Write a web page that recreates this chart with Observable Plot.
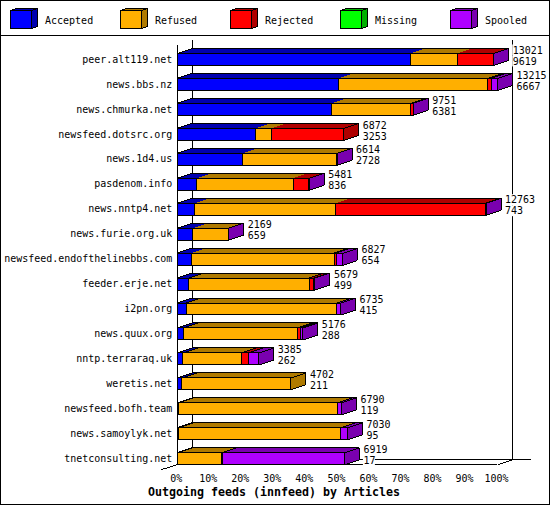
<!DOCTYPE html>
<html><head><meta charset="utf-8">
<script src="https://cdn.jsdelivr.net/npm/d3@7"></script>
<script src="https://cdn.jsdelivr.net/npm/@observablehq/plot@0.6"></script>
<style>
html,body{margin:0;padding:0;background:#fff}
#frame{position:relative;width:550px;height:505px;box-sizing:border-box;border:1px solid #000;overflow:hidden;font-family:"DejaVu Sans Mono",monospace;font-size:10px}
#legend{position:absolute;left:-1px;top:-1px;width:550px;height:36px;box-sizing:border-box;border-bottom:1px solid #000}
#chart{position:absolute;left:-1px;top:35px}
#title{position:absolute;left:147px;top:484px;font:bold 11.63px "DejaVu Sans Mono",monospace;white-space:pre;color:#000}
</style></head><body>
<div id="frame"><div id="legend"></div><div id="chart"></div><div id="title"></div></div>
<script>
const categories = ["Accepted","Refused","Rejected","Missing","Spooled"];
const fills  = ["#0000ff","#ffaf00","#ff0000","#00ff00","#af00ff"];
const shades = ["#0000af","#af7a00","#af0000","#00af00","#7a00af"];
const hosts = ["peer.alt119.net","news.bbs.nz","news.chmurka.net","newsfeed.dotsrc.org","news.1d4.us","pasdenom.info","news.nntp4.net","news.furie.org.uk","newsfeed.endofthelinebbs.com","feeder.erje.net","i2pn.org","news.quux.org","nntp.terraraq.uk","weretis.net","newsfeed.bofh.team","news.samoylyk.net","tnetconsulting.net"];
const accepted = [72.8,50.2,48.2,24.5,20.3,6.1,5.4,4.9,4.5,3.5,2.9,2.0,1.8,1.5,0.5,0.5,0.1];
const refused  = [14.7,46.7,24.6,5.0,29.5,30.1,44.1,11.1,44.5,37.7,46.9,35.5,18.2,34.0,49.4,50.4,13.8];
const rejected = [11.2,1.1,0.8,22.5,0,4.9,46.8,0,0.6,1.4,0,1.0,2.3,0,0,0,0.1];
const missing  = [0,0,0,0,0,0,0,0,0,0,0,0,0,0,0,0,0];
const spooled  = [0.1,2.0,0.1,0,0.1,0.1,0.1,0.1,2.0,0.4,1.2,0.7,3.2,0,1.4,2.3,38.2];
const offered  = [13021,13215,9751,6872,6614,5481,12763,2169,6827,5679,6735,5176,3385,4702,6790,7030,6919];
const received = [9619,6667,6381,3253,2728,836,743,659,654,499,415,288,262,211,119,95,17];
const title = "Outgoing feeds (innfeed) by Articles";
const tickValues = [0,10,20,30,40,50,60,70,80,90,100];

const DX = 15, DY = 5, PX = 0.5, NARROW = 4;
const seriesValues = [accepted,refused,rejected,missing,spooled];
const rows = hosts.flatMap((host,h) => {
  const live = categories.map((s,k)=>({host,series:s,k,value:seriesValues[k][h]})).filter(d=>d.value>0);
  return live.map((d,i)=>({...d,first:i===0,last:i===live.length-1}));
});
const ends = hosts.map((host,h)=>({host,end:d3.sum(seriesValues,v=>v[h]),upper:String(offered[h]),lower:String(received[h])}));
const shadeOf = c => shades[fills.indexOf(c)];
const NS = "http://www.w3.org/2000/svg";
const el = (doc,name,attrs) => {const e=doc.createElementNS(NS,name);for(const k in attrs)e.setAttribute(k,attrs[k]);return e;};

function topFaces(index,scales,values,dim,ctx){
  const g = el(ctx.document,"g",{"shape-rendering":"crispEdges"});
  for(const i of index){
    const x1=values.x1[i]+PX,x2=values.x2[i]+PX,y=scales.y(rows[i].host)+PX;
    g.append(el(ctx.document,"polygon",{points:`${x1},${y} ${x1+DX},${y-DY} ${x2+DX},${y-DY} ${x2},${y}`,fill:shadeOf(values.fill[i]),stroke:"none"}));
  }
  for(const i of index){
    const x1=values.x1[i]+PX,x2=values.x2[i]+PX,y=scales.y(rows[i].host)+PX;
    let d=`M${x1+DX},${y-DY}H${x2+DX}`;
    if(rows[i].first || rows[i].value<NARROW) d+=`M${x1},${y}L${x1+DX},${y-DY}`;
    if(rows[i].value<NARROW) d+=`M${x2},${y}L${x2+DX},${y-DY}`;
    g.append(el(ctx.document,"path",{d,fill:"none",stroke:"#000"}));
  }
  return g;
}
function sideFaces(index,scales,values,dim,ctx){
  const g = el(ctx.document,"g",{"shape-rendering":"crispEdges"});
  const bw = scales.y.bandwidth();
  for(const i of index){
    if(!rows[i].last) continue;
    const x2=values.x2[i]+PX,y=scales.y(rows[i].host)+PX;
    g.append(el(ctx.document,"polygon",{points:`${x2},${y} ${x2+DX},${y-DY} ${x2+DX},${y+bw-DY} ${x2},${y+bw}`,fill:shadeOf(values.fill[i]),stroke:"#000"}));
  }
  return g;
}
// white backing behind a value label, so the wall lines stop at the text
function labelBoxes(key,offset){
  return (index,scales,values,dim,ctx)=>{
    const g = el(ctx.document,"g",{});
    for(const i of index){
      const d=ends[i];
      const cy=scales.y(d.host)+scales.y.bandwidth()/2+offset;
      g.append(el(ctx.document,"rect",{x:scales.x(d.end)+DX+4,y:cy-5.5,width:d[key].length*6,height:11,fill:"#fff"}));
    }
    return g;
  };
}
function corners(index,scales,values,dim,ctx){
  const y0=scales.y(hosts[hosts.length-1])+scales.y.bandwidth()+PX;
  const a=scales.x(0)+PX,b=scales.x(100)+PX;
  return el(ctx.document,"path",{d:`M${a-DX-1},${y0+DY}L${a},${y0}M${b},${y0}L${b+DX},${y0-DY}`,fill:"none",stroke:"#000","shape-rendering":"crispEdges"});
}
const bare = {x:"value",y:"host",fill:"series",order:categories};
const last = hosts[hosts.length-1];
const valueText = (key,dy) => Plot.text(ends,{x:"end",y:"host",text:key,dx:DX+4,dy,textAnchor:"start",fill:"#000"});

const plot = Plot.plot({
  width:550,height:469,marginLeft:177,marginRight:52,marginTop:10.5,marginBottom:33.5,
  style:{background:"transparent",fontFamily:'"DejaVu Sans Mono",monospace',fontSize:"10px",color:"#000",overflow:"visible"},
  x:{domain:[0,100]},
  y:{domain:hosts,paddingInner:0.52,paddingOuter:0.26,round:false},
  color:{domain:categories,range:fills},
  marks:[
    // back wall
    Plot.ruleX([0],{dx:15,insetTop:-6.5,insetBottom:11.5,stroke:"#000",shapeRendering:"crispEdges"}),
    Plot.ruleX([100],{dx:15,insetTop:-6.5,insetBottom:11.5,stroke:"#000",shapeRendering:"crispEdges"}),
    Plot.ruleY([last],{x1:0,x2:106,dx:15,dy:1,stroke:"#000",shapeRendering:"crispEdges"}),
    // floor and front axis
    Plot.ruleX([0],{render:corners}),
    Plot.ruleY([last],{x1:0,x2:100,dy:6,stroke:"#000",shapeRendering:"crispEdges"}),
    Plot.ruleX([0],{insetTop:-1.5,insetBottom:6.5,stroke:"#000",shapeRendering:"crispEdges"}),
    // bars
    Plot.barX(rows,{...bare,render:topFaces}),
    Plot.barX(rows,{...bare,render:sideFaces}),
    Plot.barX(rows,{...bare,dx:PX,dy:PX,stroke:"#000",shapeRendering:"crispEdges"}),
    // axes
    Plot.axisY({anchor:"left",tickSize:0,tickPadding:5,label:null,fontSize:10}),
    Plot.axisX({anchor:"bottom",ticks:tickValues,tickFormat:d=>d+"%",tickSize:0,tickPadding:4,dx:-1,label:null,fontSize:10}),
    // value labels
    Plot.text(ends,{x:"end",y:"host",text:"upper",render:labelBoxes("upper",-9)}),
    Plot.text(ends,{x:"end",y:"host",text:"lower",render:labelBoxes("lower",2)}),
    valueText("upper",-9),
    valueText("lower",2)
  ]
});
document.getElementById("chart").append(plot);
document.getElementById("title").textContent = title;

// legend: one 3D swatch per category
const lg = d3.select("#legend").append("svg").attr("width",550).attr("height",35).style("display","block");
categories.forEach((c,k)=>{
  const g = lg.append("g").attr("transform",`translate(${10.5+110*k},0.5)`).attr("shape-rendering","crispEdges");
  g.append("polygon").attr("points","0,10 6,8 27,8 21,10").attr("fill",shades[k]).attr("stroke","#000");
  g.append("polygon").attr("points","21,10 27,8 27,26 21,28").attr("fill",shades[k]).attr("stroke","#000");
  g.append("rect").attr("x",0).attr("y",10).attr("width",21).attr("height",18).attr("fill",fills[k]).attr("stroke","#000");
  lg.append("text").attr("x",45+110*k).attr("y",21).attr("dy","0.32em").attr("font-family",'"DejaVu Sans Mono",monospace').attr("font-size",10).text(c);
});
</script>
</body></html>
